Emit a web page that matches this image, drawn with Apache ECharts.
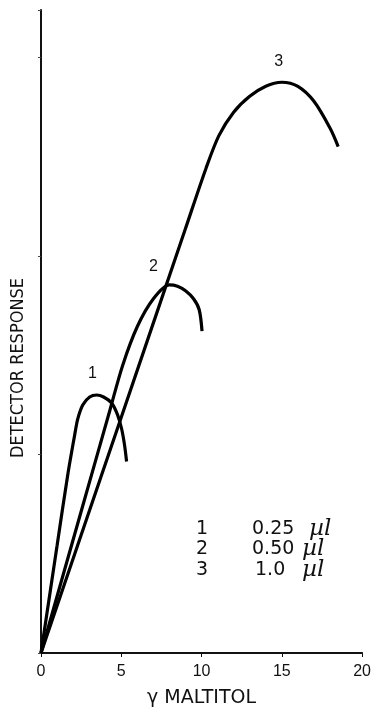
<!DOCTYPE html>
<html><head><meta charset="utf-8">
<script src="https://cdn.jsdelivr.net/npm/echarts@6/dist/echarts.min.js"></script>
<style>html,body{margin:0;padding:0;background:#fff}#c{width:374px;height:713px}</style>
</head><body><div id="c"></div>
<script>
// Curve 1 (0.25 µl)
const curve1X = [0, 1.0, 1.67, 2.1, 2.29, 2.6, 3.03, 3.47, 3.9, 4.4, 4.77, 5.02, 5.2, 5.33];
const curve1Y = [0, 0.54, 0.90, 1.10, 1.18, 1.25, 1.29, 1.30, 1.29, 1.26, 1.20, 1.13, 1.05, 0.965];
// Curve 2 (0.50 µl)
const curve2X = [0, 2.5, 4.3, 5.08, 6.0, 7.0, 8.0, 8.5, 9.0, 9.5, 9.85, 10.03];
const curve2Y = [0, 0.713, 1.226, 1.448, 1.645, 1.785, 1.855, 1.848, 1.825, 1.785, 1.731, 1.622];
// Curve 3 (1.0 µl)
const curve3X = [0, 5.0, 9.0, 10.28, 11.08, 12.0, 13.0, 14.0, 15.0, 16.0, 17.0, 18.0, 18.51];
const curve3Y = [0, 1.188, 2.139, 2.443, 2.607, 2.725, 2.805, 2.856, 2.876, 2.855, 2.78, 2.645, 2.552];
const curveNames = ['1', '2', '3'];
const labelPos = [[3.2, 1.41], [7.0, 1.945], [14.8, 2.98]];
const legendNums = ['1', '2', '3'];
const legendVals = ['0.25', '0.50', '1.0'];
const legendUnit = 'µl';

const zip = (a, b) => a.map((v, i) => [v, b[i]]);
const curves = [zip(curve1X, curve1Y), zip(curve2X, curve2Y), zip(curve3X, curve3Y)];

const chart = echarts.init(document.getElementById('c'));
const font = 'Liberation Sans, Arial, sans-serif';
const narrow = '"Liberation Sans Narrow", "Arial Narrow", "DejaVu Sans Condensed", sans-serif';
const wide = 'DejaVu Sans, sans-serif';
const rowY = [529, 549, 570];
const valX = [252, 252, 255];
const unitX = [309, 302, 302];
const graphics = [{
  type: 'text', x: 18, y: 368, rotation: Math.PI / 2,
  style: { text: 'DETECTOR RESPONSE', fill: '#111', font: '18px ' + narrow, textAlign: 'center', textVerticalAlign: 'middle' }
}];
legendNums.forEach((n, i) => {
  graphics.push({ type: 'text', x: 202, y: rowY[i], style: { text: n, fill: '#111', font: '19px ' + wide, textAlign: 'center', textVerticalAlign: 'middle' } });
  graphics.push({ type: 'text', x: valX[i], y: rowY[i], style: { text: legendVals[i], fill: '#111', font: '19px ' + wide, textVerticalAlign: 'middle' } });
  graphics.push({ type: 'text', x: unitX[i], y: rowY[i], style: { text: legendUnit, fill: '#111', font: 'italic 23px DejaVu Serif, serif', textVerticalAlign: 'middle' } });
});

chart.setOption({
  animation: false,
  backgroundColor: '#fff',
  grid: { left: 41, right: 10, top: 10, bottom: 52 },
  xAxis: {
    type: 'value', min: 0, max: 20, interval: 5,
    name: 'γ MALTITOL', nameLocation: 'middle', nameGap: 36,
    nameTextStyle: { color: '#111', fontSize: 19, fontFamily: wide },
    axisLine: { lineStyle: { color: '#111', width: 2 } },
    axisTick: { show: true, length: 4, lineStyle: { color: '#111' } },
    axisLabel: { color: '#111', fontSize: 16, fontFamily: font, margin: 11 },
    splitLine: { show: false }
  },
  yAxis: {
    type: 'value', min: 0, max: 3.24, interval: 1,
    axisLine: { show: true, lineStyle: { color: '#111', width: 2 } },
    axisTick: { show: true, length: 3, lineStyle: { color: '#444' } },
    axisLabel: { show: false },
    splitLine: { show: false }
  },
  series: curves.map((d, i) => ({
    type: 'line', name: curveNames[i], data: d, smooth: 0.3,
    symbol: 'none',
    lineStyle: { color: '#000', width: 3.2 },
    markPoint: {
      symbol: 'circle', symbolSize: 0,
      label: { show: true, formatter: curveNames[i], color: '#111', fontSize: 16, fontFamily: font, position: 'inside' },
      data: [{ coord: labelPos[i] }]
    }
  })),
  graphic: graphics
});
</script></body></html>
